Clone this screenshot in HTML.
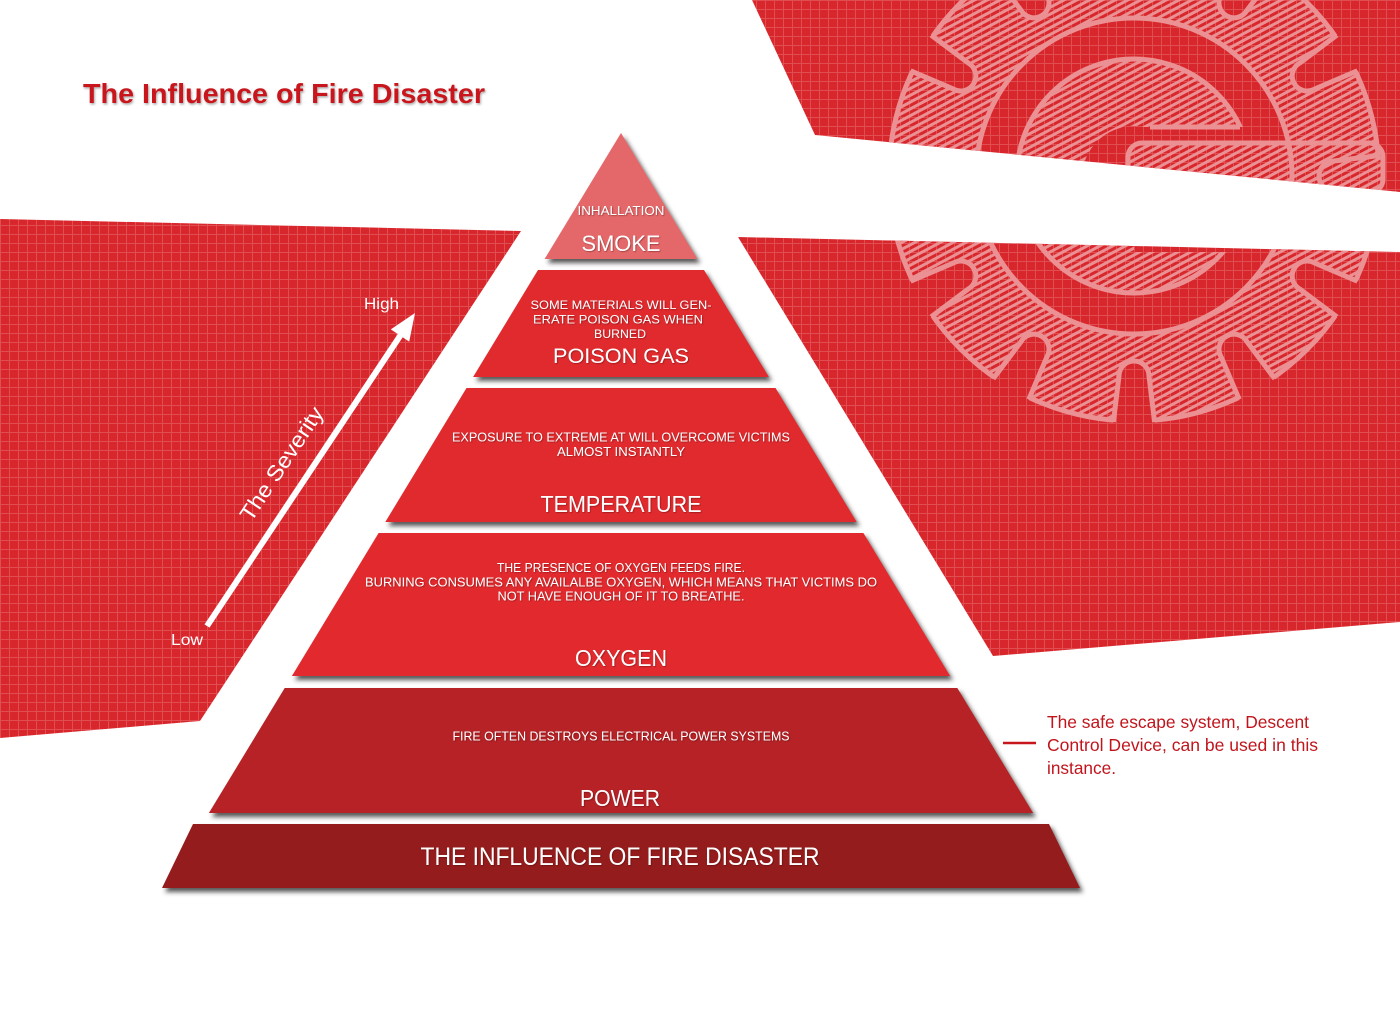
<!DOCTYPE html>
<html>
<head>
<meta charset="utf-8">
<style>
  html,body{margin:0;padding:0;background:#ffffff;}
  svg{display:block;}
  text{font-family:"Liberation Sans", Arial, sans-serif;}
</style>
</head>
<body>
<svg width="1400" height="1011" viewBox="0 0 1400 1011" xmlns="http://www.w3.org/2000/svg">
  <defs>
    <pattern id="grid" width="9" height="9" patternUnits="userSpaceOnUse">
      <rect width="9" height="9" fill="#d8272c"/>
      <path d="M0 0.5H9M0.5 0V9" stroke="#e14e52" stroke-width="1"/>
    </pattern>
    <pattern id="hatch" width="6" height="6" patternUnits="userSpaceOnUse" patternTransform="rotate(-28)">
      <rect width="6" height="3" fill="#eb9093"/>
    </pattern>
    <filter id="sh" x="-10%" y="-20%" width="125%" height="150%">
      <feDropShadow dx="3" dy="4" stdDeviation="2.5" flood-color="#2a2a2a" flood-opacity="0.8"/>
    </filter>
    <filter id="tsh" x="-5%" y="-30%" width="110%" height="160%">
      <feDropShadow dx="0.8" dy="0.8" stdDeviation="0.6" flood-color="#400000" flood-opacity="0.45"/>
    </filter>
    <filter id="titsh" x="-5%" y="-30%" width="110%" height="160%">
      <feDropShadow dx="1" dy="1.5" stdDeviation="1" flood-color="#555" flood-opacity="0.5"/>
    </filter>
    <clipPath id="rb">
      <polygon points="752,0 1400,0 1400,192 815,135"/>
      <polygon points="738,237 1400,252 1400,622 993,656"/>
    </clipPath>
    <clipPath id="gearc">
      <circle cx="1134" cy="176" r="247"/>
    </clipPath>
    <mask id="ringm" maskUnits="userSpaceOnUse" x="800" y="-150" width="700" height="700">
      <rect x="800" y="-150" width="700" height="700" fill="white"/>
      <circle cx="1134" cy="176" r="158" fill="black"/>
      <g fill="black">
        <path d="M1334,161 L1400,153 L1400,199 L1334,191 A15,15 0 0 1 1334,161 Z" transform="rotate(0 1134 176)"/>
        <path d="M1334,161 L1400,153 L1400,199 L1334,191 A15,15 0 0 1 1334,161 Z" transform="rotate(30 1134 176)"/>
        <path d="M1334,161 L1400,153 L1400,199 L1334,191 A15,15 0 0 1 1334,161 Z" transform="rotate(60 1134 176)"/>
        <path d="M1334,161 L1400,153 L1400,199 L1334,191 A15,15 0 0 1 1334,161 Z" transform="rotate(90 1134 176)"/>
        <path d="M1334,161 L1400,153 L1400,199 L1334,191 A15,15 0 0 1 1334,161 Z" transform="rotate(120 1134 176)"/>
        <path d="M1334,161 L1400,153 L1400,199 L1334,191 A15,15 0 0 1 1334,161 Z" transform="rotate(150 1134 176)"/>
        <path d="M1334,161 L1400,153 L1400,199 L1334,191 A15,15 0 0 1 1334,161 Z" transform="rotate(180 1134 176)"/>
        <path d="M1334,161 L1400,153 L1400,199 L1334,191 A15,15 0 0 1 1334,161 Z" transform="rotate(210 1134 176)"/>
        <path d="M1334,161 L1400,153 L1400,199 L1334,191 A15,15 0 0 1 1334,161 Z" transform="rotate(240 1134 176)"/>
        <path d="M1334,161 L1400,153 L1400,199 L1334,191 A15,15 0 0 1 1334,161 Z" transform="rotate(270 1134 176)"/>
        <path d="M1334,161 L1400,153 L1400,199 L1334,191 A15,15 0 0 1 1334,161 Z" transform="rotate(300 1134 176)"/>
        <path d="M1334,161 L1400,153 L1400,199 L1334,191 A15,15 0 0 1 1334,161 Z" transform="rotate(330 1134 176)"/>
      </g>
    </mask>
    <mask id="cm" maskUnits="userSpaceOnUse" x="900" y="0" width="500" height="400">
      <rect x="900" y="0" width="500" height="400" fill="white"/>
      <circle cx="1134" cy="178" r="52" fill="black"/>
      <rect x="1134" y="127" width="140" height="125" fill="black"/>
    </mask>
  </defs>

  <!-- background bands -->
  <polygon points="0,219 521,231 200,721 0,738" fill="url(#grid)"/>
  <polygon points="752,0 1400,0 1400,192 815,135" fill="url(#grid)"/>
  <polygon points="738,237 1400,252 1400,622 993,656" fill="url(#grid)"/>

  <!-- gear sketch -->
  <g clip-path="url(#rb)">
    <g mask="url(#ringm)">
      <circle cx="1134" cy="176" r="245" fill="url(#hatch)" stroke="#eb9093" stroke-width="5"/>
    </g>
    <circle cx="1134" cy="176" r="158" fill="none" stroke="#eb9093" stroke-width="5"/>
    <g clip-path="url(#gearc)" fill="none" stroke="#eb9093" stroke-width="5">
      <path d="M1400,153 L1334,161 A15,15 0 0 0 1334,191 L1400,199" transform="rotate(0 1134 176)"/>
      <path d="M1400,153 L1334,161 A15,15 0 0 0 1334,191 L1400,199" transform="rotate(30 1134 176)"/>
      <path d="M1400,153 L1334,161 A15,15 0 0 0 1334,191 L1400,199" transform="rotate(60 1134 176)"/>
      <path d="M1400,153 L1334,161 A15,15 0 0 0 1334,191 L1400,199" transform="rotate(90 1134 176)"/>
      <path d="M1400,153 L1334,161 A15,15 0 0 0 1334,191 L1400,199" transform="rotate(120 1134 176)"/>
      <path d="M1400,153 L1334,161 A15,15 0 0 0 1334,191 L1400,199" transform="rotate(150 1134 176)"/>
      <path d="M1400,153 L1334,161 A15,15 0 0 0 1334,191 L1400,199" transform="rotate(180 1134 176)"/>
      <path d="M1400,153 L1334,161 A15,15 0 0 0 1334,191 L1400,199" transform="rotate(210 1134 176)"/>
      <path d="M1400,153 L1334,161 A15,15 0 0 0 1334,191 L1400,199" transform="rotate(240 1134 176)"/>
      <path d="M1400,153 L1334,161 A15,15 0 0 0 1334,191 L1400,199" transform="rotate(270 1134 176)"/>
      <path d="M1400,153 L1334,161 A15,15 0 0 0 1334,191 L1400,199" transform="rotate(300 1134 176)"/>
      <path d="M1400,153 L1334,161 A15,15 0 0 0 1334,191 L1400,199" transform="rotate(330 1134 176)"/>
    </g>
    <g mask="url(#cm)">
      <circle cx="1134" cy="176" r="117" fill="url(#hatch)" stroke="#eb9093" stroke-width="5"/>
    </g>
    <line x1="1150" y1="127" x2="1240" y2="127" stroke="#eb9093" stroke-width="5"/>
    <rect x="1128" y="143" width="255" height="50" rx="14" fill="url(#hatch)" stroke="#eb9093" stroke-width="5"/>
  </g>

  <!-- title -->
  <text x="83" y="103" font-size="28" font-weight="bold" fill="#c8171e" textLength="402" lengthAdjust="spacingAndGlyphs" filter="url(#titsh)">The Influence of Fire Disaster</text>

  <!-- pyramid layers -->
  <polygon points="621,133 697.4,259 544.6,259" fill="#e4676b" filter="url(#sh)"/>
  <polygon points="538,270 704,270 768.9,377 473.1,377" fill="#e0292d" filter="url(#sh)"/>
  <polygon points="466.5,388 775.5,388 856.7,522 385.3,522" fill="#e12a2d" filter="url(#sh)"/>
  <polygon points="378.6,533 863.4,533 950.1,676 291.9,676" fill="#e22b2e" filter="url(#sh)"/>
  <polygon points="284.7,688 957.3,688 1033.1,813 208.9,813" fill="#b62025" filter="url(#sh)"/>
  <polygon points="193,824 1049,824 1080,888 162,888" fill="#941a1d" filter="url(#sh)"/>

  <!-- pyramid text -->
  <g fill="#ffffff" text-anchor="middle" filter="url(#tsh)">
    <text x="621" y="215" font-size="12.5" textLength="87" lengthAdjust="spacingAndGlyphs">INHALLATION</text>
    <text x="621" y="251" font-size="22" textLength="79" lengthAdjust="spacingAndGlyphs">SMOKE</text>

    <text x="621" y="309" font-size="12" textLength="181" lengthAdjust="spacingAndGlyphs">SOME MATERIALS WILL GEN-</text>
    <text x="618" y="323.5" font-size="12" textLength="170" lengthAdjust="spacingAndGlyphs">ERATE POISON GAS WHEN</text>
    <text x="620" y="338" font-size="12" textLength="52" lengthAdjust="spacingAndGlyphs">BURNED</text>
    <text x="621" y="363" font-size="21.5" textLength="136" lengthAdjust="spacingAndGlyphs">POISON GAS</text>

    <text x="621" y="441.5" font-size="12.5" textLength="338" lengthAdjust="spacingAndGlyphs">EXPOSURE TO EXTREME AT WILL OVERCOME VICTIMS</text>
    <text x="621" y="456" font-size="12.5" textLength="128" lengthAdjust="spacingAndGlyphs">ALMOST INSTANTLY</text>
    <text x="621" y="512" font-size="23" textLength="161" lengthAdjust="spacingAndGlyphs">TEMPERATURE</text>

    <text x="621" y="572" font-size="12.5" textLength="248" lengthAdjust="spacingAndGlyphs">THE PRESENCE OF OXYGEN FEEDS FIRE.</text>
    <text x="621" y="586.5" font-size="12.5" textLength="512" lengthAdjust="spacingAndGlyphs">BURNING CONSUMES ANY AVAILALBE OXYGEN, WHICH MEANS THAT VICTIMS DO</text>
    <text x="621" y="600.5" font-size="12.5" textLength="247" lengthAdjust="spacingAndGlyphs">NOT HAVE ENOUGH OF IT TO BREATHE.</text>
    <text x="621" y="666" font-size="23" textLength="92" lengthAdjust="spacingAndGlyphs">OXYGEN</text>

    <text x="621" y="740.5" font-size="12.5" textLength="337" lengthAdjust="spacingAndGlyphs">FIRE OFTEN DESTROYS ELECTRICAL POWER SYSTEMS</text>
    <text x="620" y="806" font-size="23.5" textLength="80" lengthAdjust="spacingAndGlyphs">POWER</text>

    <text x="620" y="865" font-size="25" textLength="399" lengthAdjust="spacingAndGlyphs">THE INFLUENCE OF FIRE DISASTER</text>
  </g>

  <!-- severity arrow -->
  <line x1="207" y1="626" x2="402" y2="333" stroke="#ffffff" stroke-width="6"/>
  <polygon points="415,313 409.2,341.6 390.8,329.4" fill="#ffffff"/>
  <text x="364" y="309" font-size="16" fill="#ffffff" textLength="35" lengthAdjust="spacingAndGlyphs">High</text>
  <text x="171" y="645" font-size="16" fill="#ffffff" textLength="32" lengthAdjust="spacingAndGlyphs">Low</text>
  <text transform="translate(282,464) rotate(-56.3)" x="0" y="7" font-size="22" fill="#ffffff" text-anchor="middle" textLength="132" lengthAdjust="spacingAndGlyphs">The Severity</text>

  <!-- annotation -->
  <line x1="1003" y1="743" x2="1036" y2="743" stroke="#c8161d" stroke-width="2.5"/>
  <g fill="#c0151c" font-size="17.5">
    <text x="1047" y="728" textLength="262" lengthAdjust="spacingAndGlyphs">The safe escape system, Descent</text>
    <text x="1047" y="751" textLength="271" lengthAdjust="spacingAndGlyphs">Control Device, can be used in this</text>
    <text x="1047" y="774" textLength="69" lengthAdjust="spacingAndGlyphs">instance.</text>
  </g>
</svg>
</body>
</html>
